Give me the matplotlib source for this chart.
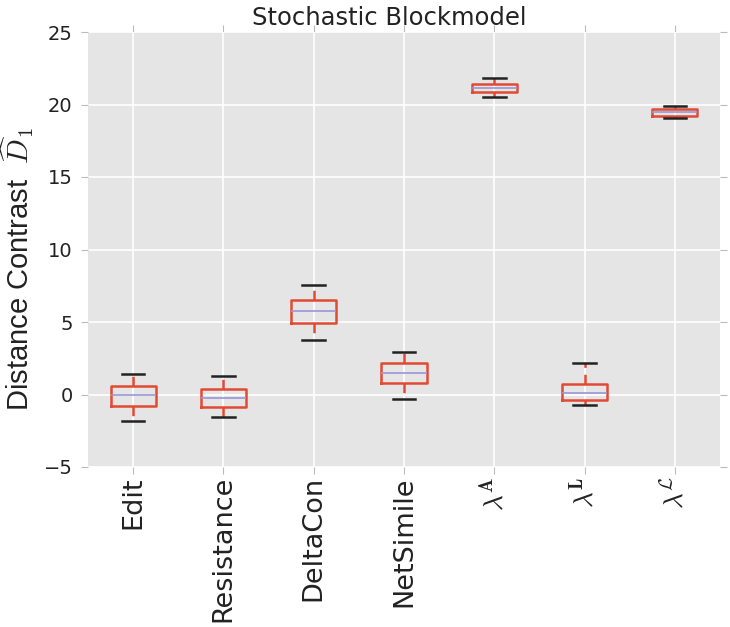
import matplotlib
matplotlib.use("Agg")
import matplotlib.pyplot as plt

categories = ["Edit", "Resistance", "DeltaCon", "NetSimile",
              r"$\lambda^{\mathbf{A}}$", r"$\lambda^{\mathbf{L}}$", r"$\lambda^{\mathcal{L}}$"]
whisker_low = [-1.80, -1.52, 3.79, -0.30, 20.50, -0.74, 19.06]
q1 = [-0.80, -0.83, 4.94, 0.78, 20.83, -0.41, 19.24]
median = [-0.02, -0.21, 5.79, 1.45, 21.13, 0.09, 19.45]
q3 = [0.60, 0.39, 6.55, 2.16, 21.43, 0.71, 19.66]
whisker_high = [1.42, 1.31, 7.52, 2.90, 21.80, 2.18, 19.93]
yticks = [-5, 0, 5, 10, 15, 20, 25]

plt.rcParams['mathtext.fontset'] = 'cm'
plt.rcParams['lines.scale_dashes'] = False

fig = plt.figure(figsize=(7.3, 6.27), dpi=100)
ax = fig.add_axes([88/730, 1-467/627, (720-88)/730, (467-32)/627])
ax.set_facecolor('#E5E5E5')
for s in ax.spines.values():
    s.set_visible(False)

stats = []
for i, c in enumerate(categories):
    stats.append(dict(label=c, whislo=whisker_low[i], q1=q1[i], med=median[i],
                      q3=q3[i], whishi=whisker_high[i], fliers=[]))

ax.bxp(stats, positions=range(1, len(categories)+1), widths=0.5, showfliers=False,
       boxprops=dict(color='#E24A33', linewidth=1.8),
       whiskerprops=dict(color='#E24A33', linewidth=1.8, linestyle=(0, (7, 5))),
       capprops=dict(color='#222222', linewidth=1.8),
       medianprops=dict(color='#9A96D6', linewidth=1.2))

ax.set_xlim(0.5, len(categories)+0.5)
ax.set_ylim(-5, 25)
ax.set_yticks(yticks)
ax.set_yticklabels([str(t).replace('-', '\u2212') for t in yticks], fontsize=14, color='#222222')
ax.set_xticklabels(categories, rotation=90, fontsize=19.5, color='#222222')
ax.grid(True, color='white', linewidth=1.2)
ax.set_axisbelow(True)
ax.tick_params(axis='both', which='both', direction='out', length=5, width=0.8,
               color='#BBBBBB', top=True, right=True, pad=6)
ax.tick_params(axis='x', pad=1.5)

ax.set_title("Stochastic Blockmodel", fontsize=17.5, color='#222222', pad=5, x=0.476)
ax.set_ylabel(r"Distance Contrast  $\widehat{D}_1$", fontsize=21,
              family='Liberation Sans', color='#222222')
ax.yaxis.set_label_coords(-0.082, 0.455)

fig.savefig("out.png", dpi=100, facecolor='white')
